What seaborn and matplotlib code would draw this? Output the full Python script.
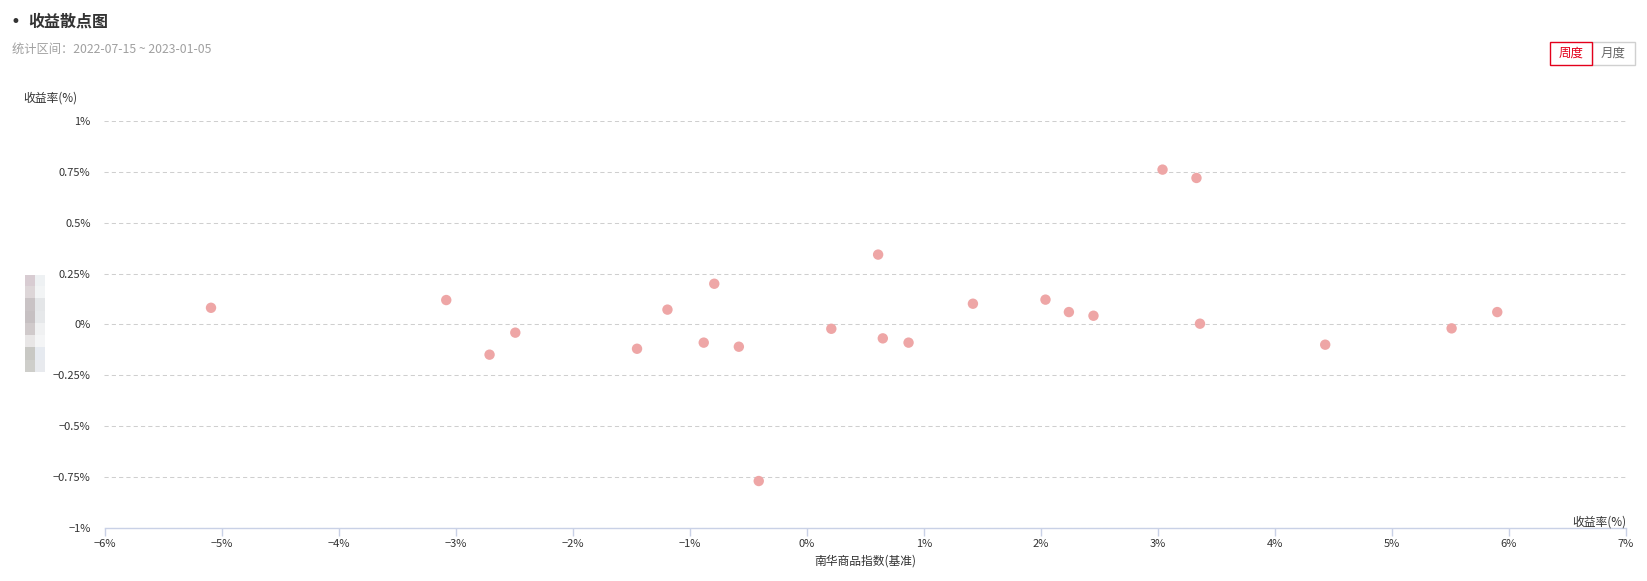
import numpy as np
import pandas as pd
import matplotlib
matplotlib.use('Agg')
import matplotlib.pyplot as plt
import matplotlib.patches as mpatches
from matplotlib.ticker import FuncFormatter
import seaborn as sns

# Weekly returns (%): benchmark (南华商品指数) vs fund
bench_ret = [-5.09, -3.08, -2.71, -2.49, -1.45, -1.19, -0.88, -0.79, -0.58, -0.41,
             0.21, 0.61, 0.65, 0.87, 1.42, 2.04, 2.24, 2.45, 3.04, 3.33, 3.36,
             4.43, 5.51, 5.90]
fund_ret = [0.082, 0.120, -0.148, -0.040, -0.119, 0.073, -0.089, 0.200, -0.109, -0.768,
            -0.021, 0.343, -0.068, -0.089, 0.102, 0.122, 0.061, 0.043, 0.760, 0.719, 0.004,
            -0.099, -0.019, 0.061]

x_ticks = [-6, -5, -4, -3, -2, -1, 0, 1, 2, 3, 4, 5, 6, 7]
y_ticks = [-1, -0.75, -0.5, -0.25, 0, 0.25, 0.5, 0.75, 1]

title = '收益散点图'
period = '统计区间：2022-07-15 ~ 2023-01-05'
x_name = '南华商品指数(基准)'
y_name = '收益率(%)'

sns.set_theme(style='white')
plt.rcParams['font.family'] = ['Noto Sans CJK SC', 'DejaVu Sans']

W, H = 1647, 581
fig = plt.figure(figsize=(W / 100, H / 100), dpi=100)
fig.patch.set_facecolor('white')

def fx(px):
    return px / W

def fy(py):
    return 1 - py / H

ax = fig.add_axes([fx(104.5), fy(528.3), fx(1626) - fx(104.5), fy(120.7) - fy(528.3)])

df = pd.DataFrame({'bench': bench_ret, 'fund': fund_ret})
sns.scatterplot(data=df, x='bench', y='fund', ax=ax, s=56, color='#eea6a6',
                edgecolor='none', linewidth=0, zorder=3)

ax.set_xlim(-6, 7)
ax.set_ylim(-1, 1)
ax.set_xticks(x_ticks)
ax.set_yticks(y_ticks)

def pct(v, pos):
    return f'{v:g}%'.replace('-', '\u2212')

ax.xaxis.set_major_formatter(FuncFormatter(pct))
ax.yaxis.set_major_formatter(FuncFormatter(pct))

ax.yaxis.grid(True, color='#cfcfcf', linestyle=(0, (4, 3)), linewidth=0.75)
ax.xaxis.grid(False)
ax.set_axisbelow(True)

for side in ['top', 'right', 'left']:
    ax.spines[side].set_visible(False)
ax.spines['bottom'].set_color('#c9d1e6')
ax.spines['bottom'].set_linewidth(1.0)

ax.tick_params(axis='x', direction='out', length=6, width=1.0, color='#c9d1e6',
               pad=2, labelsize=8, labelcolor='#333333', bottom=True)
ax.tick_params(axis='y', length=0, pad=10, labelsize=8, labelcolor='#333333', left=False)

ax.set_xlabel(x_name, fontsize=8.5, color='#333333', labelpad=4)
ax.set_ylabel('')

# axis names
ax.text(1.0, 0.0, y_name, transform=ax.transAxes, ha='right', va='bottom',
        fontsize=8.5, color='#333333')
fig.text(fx(23), fy(98.5), y_name, ha='left', va='center', fontsize=8.5, color='#333333')

# header
fig.text(fx(15), fy(22), '\u2022', ha='center', va='center', fontsize=12,
         color='#333333', family='DejaVu Sans')
fig.text(fx(28), fy(22), title, ha='left', va='center', fontsize=11.5,
         fontweight='bold', color='#333333')
fig.text(fx(12), fy(49), period, ha='left', va='center', fontsize=8.8, color='#a0a0a0')

# period switch buttons
fig.patches.append(mpatches.Rectangle((fx(1592), fy(65)), fx(1635) - fx(1592), fy(42) - fy(65),
                                      transform=fig.transFigure, facecolor='white',
                                      edgecolor='#d0d0d0', linewidth=1.0))
fig.patches.append(mpatches.Rectangle((fx(1550), fy(65)), fx(1592) - fx(1550), fy(42) - fy(65),
                                      transform=fig.transFigure, facecolor='white',
                                      edgecolor='#e3001b', linewidth=1.0))
fig.text(fx(1571), fy(53.5), '周度', ha='center', va='center', fontsize=9, color='#e3001b')
fig.text(fx(1613.5), fy(53.5), '月度', ha='center', va='center', fontsize=9, color='#666666')

# pixelated (redacted) block on the left
blk = np.array([
    [[216, 204, 210], [238, 241, 243]],
    [[221, 214, 216], [242, 244, 245]],
    [[201, 195, 197], [228, 230, 232]],
    [[198, 192, 194], [230, 232, 234]],
    [[208, 202, 203], [240, 241, 242]],
    [[232, 230, 230], [244, 245, 246]],
    [[200, 200, 196], [230, 234, 240]],
    [[206, 206, 202], [232, 234, 238]],
]) / 255.0
bax = fig.add_axes([fx(25), fy(372), fx(45) - fx(25), fy(275) - fy(372)])
bax.imshow(blk, aspect='auto', interpolation='nearest')
bax.axis('off')

fig.savefig('out.png', dpi=100, facecolor='white')
